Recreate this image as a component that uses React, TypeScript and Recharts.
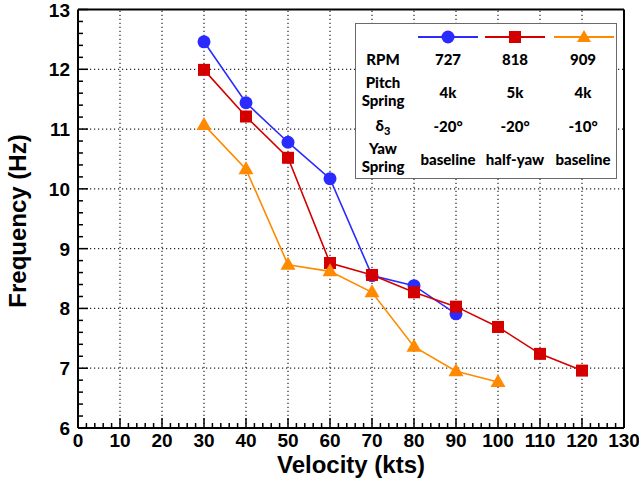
import React from 'react';
import { LineChart, Line, XAxis, YAxis, ReferenceLine, Legend } from 'recharts';

// velocity (kts) for each run
const velBlue = [30, 40, 50, 60, 70, 80, 90];
const velRed = [30, 40, 50, 60, 70, 80, 90, 100, 110, 120];
const velOrange = [30, 40, 50, 60, 70, 80, 90, 100];

// frequency (Hz)
const freqBlue = [12.46, 11.44, 10.78, 10.17, 8.55, 8.38, 7.91];
const freqRed = [11.99, 11.21, 10.52, 8.76, 8.56, 8.27, 8.03, 7.69, 7.24, 6.96];
const freqOrange = [11.07, 10.33, 8.73, 8.62, 8.27, 7.36, 6.95, 6.77];

const gridX = [10, 20, 30, 40, 50, 60, 70, 80, 90, 100, 110, 120];
const gridY = [7, 8, 9, 10, 11, 12];

// minor ticks: every 2 kts, every 0.2 Hz
const ticksX: number[] = [];
for (let i = 0; i <= 65; i++) ticksX.push(i * 2);
const ticksY: number[] = [];
for (let i = 0; i <= 35; i++) ticksY.push(Math.round((6 + i * 0.2) * 10) / 10);

const legendRpm = ['727', '818', '909'];
const legendPitch = ['4k', '5k', '4k'];
const legendDelta = ['-20°', '-20°', '-10°'];
const legendYaw = ['baseline', 'half-yaw', 'baseline'];

const BLUE = '#2b2bff';
const RED = '#d40000';
const ORANGE = '#ff8a00';

const zip = (xs: number[], ys: number[]) => xs.map((x, i) => ({ x, y: ys[i] }));
const blueData = zip(velBlue, freqBlue);
const redData = zip(velRed, freqRed);
const orangeData = zip(velOrange, freqOrange);

const axisFont = '"Liberation Sans", Arial, sans-serif';
const legendFont = 'Lato, "Open Sans", sans-serif';

const isMajor = (v: number) => Math.abs(v - Math.round(v)) < 1e-6;

const XTick = (props: any) => {
  const { x, y, payload } = props;
  const v = payload.value;
  const major = v % 10 === 0;
  return (
    <g>
      <line x1={x} x2={x} y1={y} y2={y - (major ? 10 : 5)} stroke="#000" strokeWidth={1.5} />
      {major && (
        <text x={x} y={y + 19} textAnchor="middle" fontFamily={axisFont} fontWeight="bold" fontSize={19} fill="#000">
          {v}
        </text>
      )}
    </g>
  );
};

const YTick = (props: any) => {
  const { x, y, payload } = props;
  const v = payload.value;
  const major = isMajor(v);
  return (
    <g>
      <line x1={x} x2={x + (major ? 10 : 5)} y1={y} y2={y} stroke="#000" strokeWidth={1.5} />
      {major && (
        <text x={x - 8} y={y + 7} textAnchor="end" fontFamily={axisFont} fontWeight="bold" fontSize={19} fill="#000">
          {Math.round(v)}
        </text>
      )}
    </g>
  );
};

const Circle = (props: any) => {
  const { cx, cy, index } = props;
  return <circle key={`c-${index}`} cx={cx} cy={cy} r={6.5} fill={BLUE} />;
};

const Square = (props: any) => {
  const { cx, cy, index } = props;
  return <rect key={`s-${index}`} x={cx - 6} y={cy - 6} width={12} height={12} fill={RED} />;
};

const Triangle = (props: any) => {
  const { cx, cy, index } = props;
  return (
    <polygon
      key={`t-${index}`}
      points={`${cx},${cy - 8} ${cx + 7.5},${cy + 5} ${cx - 7.5},${cy + 5}`}
      fill={ORANGE}
    />
  );
};

const Sample = ({ color, shape }: { color: string; shape: string }) => (
  <svg width={60} height={14} style={{ display: 'block' }}>
    <line x1={0} x2={60} y1={7} y2={7} stroke={color} strokeWidth={2} />
    {shape === 'circle' && <circle cx={30} cy={7} r={6.5} fill={color} />}
    {shape === 'square' && <rect x={24} y={1} width={12} height={12} fill={color} />}
    {shape === 'triangle' && <polygon points="30,0 37,12 23,12" fill={color} />}
  </svg>
);

const LegendTable = () => {
  const colX = [92, 159, 227];
  const labelX = 27;
  const cell = (left: number, top: number, content: React.ReactNode, key: string) => (
    <div
      key={key}
      style={{
        position: 'absolute',
        left,
        top,
        transform: 'translate(-50%, -50%)',
        whiteSpace: 'nowrap',
        textAlign: 'center',
        lineHeight: '18px',
      }}
    >
      {content}
    </div>
  );
  const samples = [
    { color: BLUE, shape: 'circle' },
    { color: RED, shape: 'square' },
    { color: ORANGE, shape: 'triangle' },
  ];
  return (
    <div
      style={{
        position: 'relative',
        width: 262,
        height: 156,
        boxSizing: 'border-box',
        border: '1.5px solid #6a6a6a',
        background: '#fff',
        fontFamily: legendFont,
        fontWeight: 900,
        fontSize: 15,
        color: '#000',
      }}
    >
      {samples.map((s, i) => cell(colX[i] + (i === 2 ? 1 : 0), 13, <Sample color={s.color} shape={s.shape} />, `m${i}`))}
      {cell(labelX, 35, 'RPM', 'rpm')}
      {cell(labelX, 67, <>Pitch<br />Spring</>, 'pitch')}
      {cell(labelX, 101, <>δ<sub style={{ fontSize: 11, lineHeight: '0' }}>3</sub></>, 'delta')}
      {cell(labelX, 133, <>Yaw<br />Spring</>, 'yaw')}
      {legendRpm.map((t, i) => cell(colX[i], 35, t, `r${i}`))}
      {legendPitch.map((t, i) => cell(colX[i], 68, t, `p${i}`))}
      {legendDelta.map((t, i) => cell(colX[i], 102, t, `d${i}`))}
      {legendYaw.map((t, i) => cell(colX[i], 135, t, `y${i}`))}
    </div>
  );
};

export default function App() {
  return (
    <div style={{ position: 'absolute', left: 0, top: 0, width: 639, height: 481, background: '#fff' }}>
      <LineChart width={639} height={481} margin={{ top: 9.5, right: 15, bottom: 0, left: 0 }}>
        {gridX.map((v) => (
          <ReferenceLine key={`gx${v}`} x={v} stroke="#222" strokeDasharray="1.2 2.8" strokeWidth={1.2} />
        ))}
        {gridY.map((v) => (
          <ReferenceLine key={`gy${v}`} y={v} stroke="#222" strokeDasharray="1.2 2.8" strokeWidth={1.2} />
        ))}
        <ReferenceLine x={130} stroke="#000" strokeWidth={2} />
        <ReferenceLine y={13} stroke="#000" strokeWidth={2} />
        <XAxis
          type="number"
          dataKey="x"
          domain={[0, 130]}
          ticks={ticksX}
          interval={0}
          height={53}
          tickSize={0}
          tickMargin={0}
          tickLine={false}
          axisLine={{ stroke: '#000', strokeWidth: 2 }}
          tick={(p: any) => <XTick {...p} />}
          allowDataOverflow
          label={() => (
            <text x={351} y={473} textAnchor="middle" fontFamily={axisFont} fontWeight="bold" fontSize={24} fill="#000">
              Velocity (kts)
            </text>
          )}
        />
        <YAxis
          type="number"
          domain={[6, 13]}
          ticks={ticksY}
          interval={0}
          width={78}
          tickSize={0}
          tickMargin={0}
          tickLine={false}
          axisLine={{ stroke: '#000', strokeWidth: 2 }}
          tick={(p: any) => <YTick {...p} />}
          allowDataOverflow
          label={() => (
            <text
              x={26}
              y={221}
              transform="rotate(-90 26 221)"
              textAnchor="middle"
              fontFamily={axisFont}
              fontWeight="bold"
              fontSize={24}
              fill="#000"
            >
              Frequency (Hz)
            </text>
          )}
        />
        <Legend
          layout="horizontal"
          align="center"
          verticalAlign="middle"
          wrapperStyle={{ position: 'absolute', left: 355, top: 23, width: 262, height: 156 }}
          content={() => <LegendTable />}
        />
        <Line data={blueData} dataKey="y" stroke={BLUE} strokeWidth={1.6} dot={Circle} isAnimationActive={false} />
        <Line data={redData} dataKey="y" stroke={RED} strokeWidth={1.6} dot={Square} isAnimationActive={false} />
        <Line data={orangeData} dataKey="y" stroke={ORANGE} strokeWidth={1.6} dot={Triangle} isAnimationActive={false} />
      </LineChart>
    </div>
  );
}
